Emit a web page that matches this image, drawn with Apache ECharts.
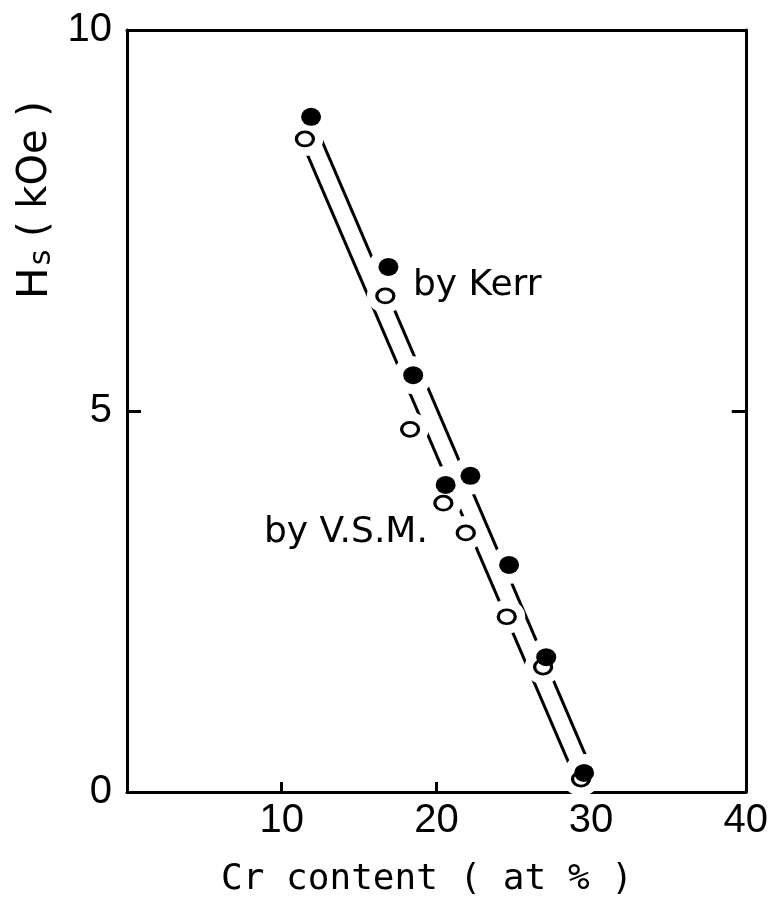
<!DOCTYPE html>
<html>
<head>
<meta charset="utf-8">
<script src="https://cdn.jsdelivr.net/npm/echarts@6/dist/echarts.min.js"></script>
<style>
  html, body { margin: 0; padding: 0; background: #fff; }
  #chart { width: 771px; height: 923px; }
</style>
</head>
<body>
<div id="chart"></div>
<script>
// Saturation field Hs versus Cr content, measured two ways
const kerrCr = [11.9, 16.9, 18.5, 20.6, 22.2, 24.7, 27.1, 29.55];
const kerrHs = [8.86, 6.89, 5.47, 4.03, 4.15, 2.98, 1.77, 0.25];
const vsmCr  = [11.5, 16.7, 18.3, 20.45, 21.9, 24.55, 26.9, 29.35];
const vsmHs  = [8.57, 6.51, 4.76, 3.79, 3.40, 2.30, 1.64, 0.17];

// straight fit lines (end points)
const kerrFitCr = [12.0, 29.9];
const kerrFitHs = [8.83, 0.36];
const vsmFitCr  = [11.5, 29.3];
const vsmFitHs  = [8.44, 0.03];

const xTicks = [0, 10, 20, 30, 40];
const yTicks = [0, 5, 10];

const pairs = (xs, ys) => xs.map((x, i) => [x, ys[i]]);

const INK = '#000';
const tickFont = 'Liberation Sans';

const chart = echarts.init(document.getElementById('chart'), null, { renderer: 'canvas' });

const filledSize = [20, 18];
const openSize = [17, 14];
const halo = 20;

chart.setOption({
  backgroundColor: '#fff',
  animation: false,
  grid: { left: 127, right: 20, top: 30, bottom: 131, containLabel: false },
  xAxis: [
    {
      type: 'value', position: 'bottom',
      min: xTicks[0], max: xTicks[xTicks.length - 1], interval: xTicks[1] - xTicks[0],
      axisLine: { show: true, lineStyle: { color: INK, width: 3 } },
      axisTick: { show: true, inside: true, length: 10, lineStyle: { color: INK, width: 3 } },
      axisLabel: { showMinLabel: false, color: INK, fontSize: 40, fontFamily: tickFont, margin: 9 },
      splitLine: { show: false }
    },
    {
      type: 'value', position: 'top',
      min: xTicks[0], max: xTicks[xTicks.length - 1], interval: xTicks[1] - xTicks[0],
      axisLine: { show: true, onZero: false, lineStyle: { color: INK, width: 3 } },
      axisTick: { show: false }, axisLabel: { show: false }, splitLine: { show: false }
    }
  ],
  yAxis: [
    {
      type: 'value', position: 'left',
      min: yTicks[0], max: yTicks[yTicks.length - 1], interval: yTicks[1] - yTicks[0],
      axisLine: { show: true, lineStyle: { color: INK, width: 3 } },
      axisTick: { show: true, inside: true, length: 14, lineStyle: { color: INK, width: 3 } },
      axisLabel: { color: INK, fontSize: 40, fontFamily: tickFont, margin: 15 },
      splitLine: { show: false }
    },
    {
      type: 'value', position: 'right',
      min: yTicks[0], max: yTicks[yTicks.length - 1], interval: yTicks[1] - yTicks[0],
      axisLine: { show: true, onZero: false, lineStyle: { color: INK, width: 3 } },
      axisTick: { show: true, inside: true, length: 14, lineStyle: { color: INK, width: 3 } },
      axisLabel: { show: false }, splitLine: { show: false }
    }
  ],
  series: [
    {
      name: 'Kerr fit', type: 'line', z: 1, zlevel: 0, symbol: 'none',
      data: pairs(kerrFitCr, kerrFitHs),
      lineStyle: { color: INK, width: 3 }
    },
    {
      name: 'VSM fit', type: 'line', z: 1, zlevel: 0, symbol: 'none',
      data: pairs(vsmFitCr, vsmFitHs),
      lineStyle: { color: INK, width: 3 }
    },
    // white knock-outs that break the lines around each marker
    {
      name: 'VSM halo', type: 'scatter', z: 5, zlevel: 0, symbol: 'circle',
      symbolSize: [openSize[0] + halo, openSize[1] + halo],
      data: pairs(vsmCr, vsmHs),
      itemStyle: { color: '#fff', opacity: 1 }
    },
    {
      name: 'Kerr halo', type: 'scatter', z: 5, zlevel: 0, symbol: 'circle',
      symbolSize: [filledSize[0] + halo, filledSize[1] + halo],
      data: pairs(kerrCr, kerrHs),
      itemStyle: { color: '#fff', opacity: 1 }
    },
    {
      name: 'by V.S.M.', type: 'scatter', z: 6, zlevel: 0, symbol: 'circle',
      symbolSize: openSize,
      data: pairs(vsmCr, vsmHs),
      itemStyle: { color: '#fff', borderColor: INK, borderWidth: 3, opacity: 1 }
    },
    {
      name: 'by Kerr', type: 'scatter', z: 7, zlevel: 0, symbol: 'circle',
      symbolSize: filledSize,
      data: pairs(kerrCr, kerrHs),
      itemStyle: { color: INK, opacity: 1 }
    }
  ],
  graphic: [
    {
      type: 'text', left: 413, top: 268, z: 10,
      style: { text: 'by Kerr', fill: INK, font: '36px "DejaVu Sans"' }
    },
    {
      type: 'text', left: 264, top: 515, z: 10,
      style: { text: 'by V.S.M.', fill: INK, font: '36px "DejaVu Sans"' }
    },
    {
      type: 'text', z: 10, x: 427, y: 880,
      style: {
        text: 'Cr content ( at % )', fill: INK,
        font: '36px "DejaVu Sans Mono"', align: 'center', verticalAlign: 'middle'
      }
    },
    {
      type: 'text', z: 10, x: 36, y: 200, rotation: Math.PI / 2,
      style: {
        text: '{h|H}{s|s}{p| ( kOe )}', fill: INK, align: 'center', verticalAlign: 'middle',
        rich: {
          h: { fontSize: 42, fontFamily: 'DejaVu Sans', fill: INK },
          s: { fontSize: 30, fontFamily: 'DejaVu Sans', fill: INK, padding: [12, 0, 0, 2] },
          p: { fontSize: 40, fontFamily: 'DejaVu Sans', fill: INK }
        }
      }
    }
  ]
});
</script>
</body>
</html>
